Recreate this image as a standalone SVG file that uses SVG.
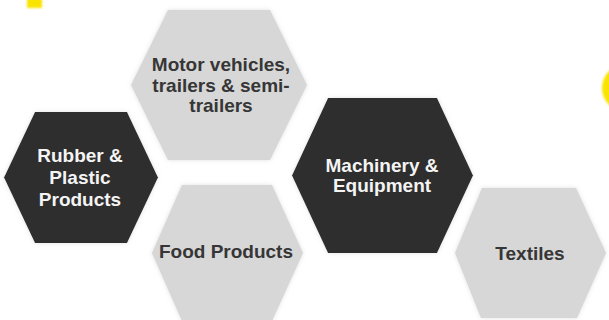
<svg xmlns="http://www.w3.org/2000/svg" width="609" height="320" viewBox="0 0 609 320">
<defs>
<filter id="glow" x="-15%" y="-15%" width="130%" height="130%">
<feGaussianBlur in="SourceAlpha" stdDeviation="2.2" result="b"/>
<feFlood flood-color="#c8c8c8" flood-opacity="0.55"/>
<feComposite in2="b" operator="in" result="s"/>
<feMerge><feMergeNode in="s"/><feMergeNode in="SourceGraphic"/></feMerge>
</filter>
<filter id="ysoft" x="-50%" y="-50%" width="200%" height="200%">
<feGaussianBlur stdDeviation="1.2"/>
</filter>
</defs>
<style>
.light{fill:#d7d7d7;filter:url(#glow);}
.dark{fill:#2d2d2d;filter:url(#glow);}
text{font-family:"Liberation Sans",Arial,sans-serif;font-weight:bold;font-size:19px;text-anchor:middle;}
.tl{fill:#363636;}
.td{fill:#f4f4f4;}
.yel{fill:#f9e400;}
</style>
<rect width="609" height="320" fill="#ffffff"/>
<g id="decor">
<rect class="yel" x="27" y="-2" width="15" height="10" filter="url(#ysoft)"/>
<circle class="yel" cx="626" cy="88" r="24" filter="url(#ysoft)"/>
</g>
<g id="motor-vehicles">
<polygon class="light" points="168,10 270,10 307,85 270,160 168,160 131,85"/>
<text class="tl" x="221" y="71">Motor vehicles,</text>
<text class="tl" x="221" y="91.5">trailers &amp; semi-</text>
<text class="tl" x="221" y="111.5">trailers</text>
</g>
<g id="rubber-plastic">
<polygon class="dark" points="35,112 127,112 158,177.5 127,243 35,243 4,177.5"/>
<text class="td" x="80" y="162">Rubber &amp;</text>
<text class="td" x="80" y="184">Plastic</text>
<text class="td" x="80" y="206">Products</text>
</g>
<g id="food-products">
<polygon class="light" points="182,185 272,185 303,253 272,321 182,321 152,253"/>
<text class="tl" x="226" y="258">Food Products</text>
</g>
<g id="machinery-equipment">
<polygon class="dark" points="328,98 437,98 473,175.5 437,253 328,253 292,175.5"/>
<text class="td" x="382" y="172">Machinery &amp;</text>
<text class="td" x="382" y="192">Equipment</text>
</g>
<g id="textiles">
<polygon class="light" points="482,188 576,188 606,253 577,318 481,318 455,253"/>
<text class="tl" x="530" y="260">Textiles</text>
</g>
<g id="connectors"></g>
</svg>
